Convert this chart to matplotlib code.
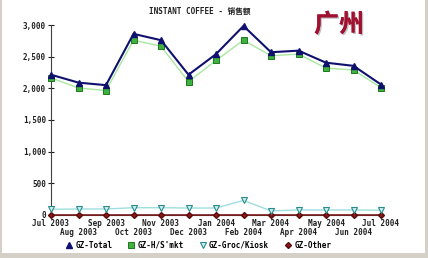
import matplotlib.pyplot as plt
import matplotlib.patches as mpatches
import matplotlib.patheffects as pe
from matplotlib.ticker import FuncFormatter

# ---------------------------------------------------------
# data
# ---------------------------------------------------------
months = ["Jul 2003", "Aug 2003", "Sep 2003", "Oct 2003", "Nov 2003", "Dec 2003",
          "Jan 2004", "Feb 2004", "Mar 2004", "Apr 2004", "May 2004", "Jun 2004",
          "Jul 2004"]
gz_total = [2215, 2090, 2050, 2860, 2760, 2215, 2540, 2985, 2570, 2595, 2405, 2355, 2060]
gz_hs_mkt = [2165, 2005, 1965, 2760, 2665, 2105, 2440, 2760, 2515, 2540, 2320, 2290, 2010]
gz_groc = [90, 95, 95, 115, 115, 110, 110, 230, 65, 80, 80, 80, 75]
gz_other = [5, 5, 5, 5, 5, 5, 5, 5, 5, 5, 5, 5, 5]

title = "INSTANT COFFEE - 销售额"
city = "广州"

# ---------------------------------------------------------
# figure
# ---------------------------------------------------------
mono = ["DejaVu Sans Mono", "Noto Sans CJK SC"]
fig = plt.figure(figsize=(4.28, 2.58), dpi=100)
fig.patch.set_facecolor("#d4d0c8")
fig.patches.append(mpatches.Rectangle((2 / 428, 5 / 258), 423 / 428, 253 / 258,
                                      transform=fig.transFigure, facecolor="white",
                                      edgecolor="none", zorder=-10))

ax = fig.add_axes([51 / 428, 43 / 258, 330 / 428, 190 / 258])
ax.set_facecolor("none")
x = list(range(len(months)))

ax.plot(x, gz_other, color="#7a1a1a", lw=1.2, marker="D", ms=3,
        mfc="#8b1a1a", mec="#5a0a0a", clip_on=False, zorder=3, label="GZ-Other")
ax.plot(x, gz_groc, color="#9fdede", lw=1.0, marker="v", ms=4,
        mfc="#c8f0f0", mec="#2a8a8a", mew=0.8, clip_on=False, zorder=4,
        label="GZ-Groc/Kiosk")
ax.plot(x, gz_hs_mkt, color="#a8e8a0", lw=1.0, marker="s", ms=4,
        mfc="#40b040", mec="#1a7a1a", mew=0.7, clip_on=False, zorder=5,
        label="GZ-H/S'mkt")
ax.plot(x, gz_total, color="#10106e", lw=1.5, marker="^", ms=4,
        mfc="#10106e", mec="#10106e", clip_on=False, zorder=6, label="GZ-Total")

ax.set_xlim(0, 12)
ax.set_ylim(0, 3000)
ax.set_yticks([0, 500, 1000, 1500, 2000, 2500, 3000])
ax.yaxis.set_major_formatter(FuncFormatter(lambda v, p: f"{int(v):,}"))
# staggered month labels: even months on the first row, odd on the second
ax.set_xticks(x[0::2])
ax.set_xticklabels(months[0::2])
ax.set_xticks(x[1::2], minor=True)
ax.set_xticklabels(months[1::2], minor=True)

for s in ["top", "right"]:
    ax.spines[s].set_visible(False)
ax.spines["left"].set_color("#404040")
ax.spines["bottom"].set_color("#404040")
ax.tick_params(axis="y", direction="inout", length=5, width=0.8, pad=1,
               labelsize=5.5, colors="#202020")
ax.tick_params(axis="x", which="major", length=0, pad=3, labelsize=5.5, colors="#202020")
ax.tick_params(axis="x", which="minor", length=0, pad=9.6, labelsize=5.5, colors="#202020")
for lab in (ax.get_xticklabels() + ax.get_xticklabels(minor=True)
            + ax.get_yticklabels()):
    lab.set_family(mono)
    lab.set_fontweight("bold")

fig.text(200 / 428, 1 - 11 / 258, title, ha="center", va="center",
         fontsize=5.5, fontweight="bold", family=mono, color="#202020")
fig.text(339 / 428, 1 - 25 / 258, city, ha="center", va="center",
         fontsize=18, fontweight="bold", family=["Noto Sans CJK SC"], color="#a01030",
         path_effects=[pe.withSimplePatchShadow(offset=(1, -1), shadow_rgbFace="#999999",
                                                alpha=0.6), pe.Normal()])

handles, labels = ax.get_legend_handles_labels()
order = [3, 2, 1, 0]
leg = fig.legend([handles[i] for i in order], [labels[i] for i in order],
                 loc="center", bbox_to_anchor=(199 / 428, 13 / 258), ncol=4,
                 frameon=False, handlelength=0.6, handletextpad=0.5,
                 columnspacing=2.2, borderpad=0.2,
                 prop={"family": mono, "size": 5.5, "weight": "bold"})
for h in leg.legend_handles:
    h.set_linestyle("none")

fig.savefig("out.png", dpi=100)
